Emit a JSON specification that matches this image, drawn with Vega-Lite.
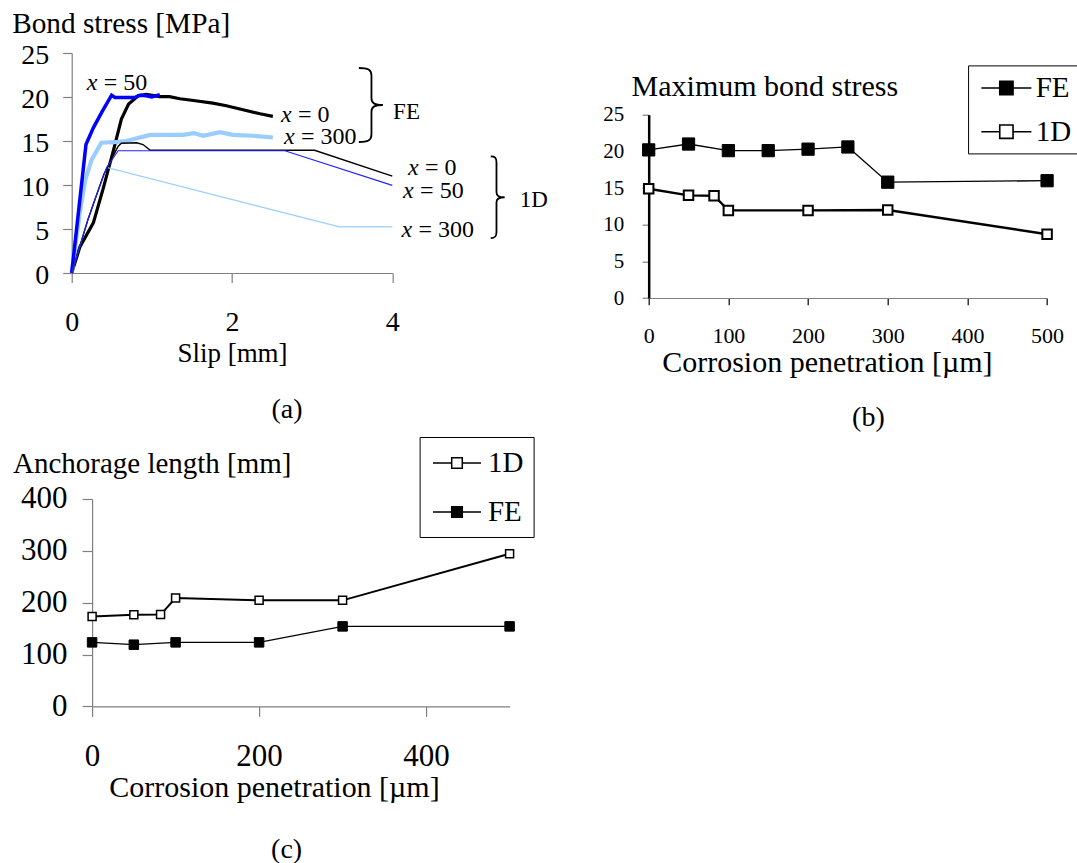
{
  "$schema": "https://vega.github.io/schema/vega-lite/v6.json",
  "padding": {"left": 11.7, "top": 9, "right": 0, "bottom": 0},
  "background": "white",
  "bounds": "flush",
  "spacing": 446,
  "resolve": {"scale": {"color": "independent", "fill": "independent", "size": "independent", "strokeWidth": "independent", "shape": "independent"}, "legend": {"color": "independent", "fill": "independent", "size": "independent", "strokeWidth": "independent", "shape": "independent"}},
  "datasets": {
    "curves": [
      {"curve": "FE x=0", "slip": 0, "stress": 0},
      {"curve": "FE x=0", "slip": 0.104, "stress": 3.0},
      {"curve": "FE x=0", "slip": 0.27, "stress": 5.7},
      {"curve": "FE x=0", "slip": 0.39, "stress": 9.5},
      {"curve": "FE x=0", "slip": 0.52, "stress": 13.9},
      {"curve": "FE x=0", "slip": 0.62, "stress": 17.5},
      {"curve": "FE x=0", "slip": 0.71, "stress": 19.2},
      {"curve": "FE x=0", "slip": 0.83, "stress": 20.15},
      {"curve": "FE x=0", "slip": 0.93, "stress": 20.3},
      {"curve": "FE x=0", "slip": 1.1, "stress": 20.05},
      {"curve": "FE x=0", "slip": 1.22, "stress": 20.05},
      {"curve": "FE x=0", "slip": 1.35, "stress": 19.8},
      {"curve": "FE x=0", "slip": 1.52, "stress": 19.6},
      {"curve": "FE x=0", "slip": 1.76, "stress": 19.3},
      {"curve": "FE x=0", "slip": 1.93, "stress": 19.0},
      {"curve": "FE x=0", "slip": 2.35, "stress": 18.1},
      {"curve": "FE x=0", "slip": 2.51, "stress": 17.8},
      {"curve": "FE x=300", "slip": 0, "stress": 0},
      {"curve": "FE x=300", "slip": 0.1, "stress": 6.8},
      {"curve": "FE x=300", "slip": 0.17, "stress": 10.6},
      {"curve": "FE x=300", "slip": 0.25, "stress": 12.9},
      {"curve": "FE x=300", "slip": 0.37, "stress": 14.8},
      {"curve": "FE x=300", "slip": 0.58, "stress": 14.9},
      {"curve": "FE x=300", "slip": 0.68, "stress": 15.0},
      {"curve": "FE x=300", "slip": 0.98, "stress": 15.7},
      {"curve": "FE x=300", "slip": 1.39, "stress": 15.7},
      {"curve": "FE x=300", "slip": 1.52, "stress": 15.9},
      {"curve": "FE x=300", "slip": 1.64, "stress": 15.6},
      {"curve": "FE x=300", "slip": 1.85, "stress": 16.0},
      {"curve": "FE x=300", "slip": 2.01, "stress": 15.7},
      {"curve": "FE x=300", "slip": 2.26, "stress": 15.6},
      {"curve": "FE x=300", "slip": 2.51, "stress": 15.4},
      {"curve": "FE x=50", "slip": 0, "stress": 0},
      {"curve": "FE x=50", "slip": 0.178, "stress": 14.6},
      {"curve": "FE x=50", "slip": 0.27, "stress": 16.5},
      {"curve": "FE x=50", "slip": 0.374, "stress": 18.25},
      {"curve": "FE x=50", "slip": 0.498, "stress": 20.2},
      {"curve": "FE x=50", "slip": 0.54, "stress": 19.95},
      {"curve": "FE x=50", "slip": 0.79, "stress": 19.95},
      {"curve": "FE x=50", "slip": 0.85, "stress": 20.2},
      {"curve": "FE x=50", "slip": 0.93, "stress": 20.15},
      {"curve": "FE x=50", "slip": 1.0, "stress": 20.0},
      {"curve": "FE x=50", "slip": 1.1, "stress": 20.25},
      {"curve": "1D x=300", "slip": 0, "stress": 0},
      {"curve": "1D x=300", "slip": 0.1, "stress": 3.0},
      {"curve": "1D x=300", "slip": 0.2, "stress": 6.0},
      {"curve": "1D x=300", "slip": 0.3, "stress": 8.6},
      {"curve": "1D x=300", "slip": 0.436, "stress": 12.0},
      {"curve": "1D x=300", "slip": 3.34, "stress": 5.25},
      {"curve": "1D x=300", "slip": 4.0, "stress": 5.25},
      {"curve": "1D x=0", "slip": 0, "stress": 0},
      {"curve": "1D x=0", "slip": 0.1, "stress": 3.0},
      {"curve": "1D x=0", "slip": 0.2, "stress": 6.0},
      {"curve": "1D x=0", "slip": 0.3, "stress": 8.6},
      {"curve": "1D x=0", "slip": 0.4, "stress": 11.2},
      {"curve": "1D x=0", "slip": 0.5, "stress": 13.0},
      {"curve": "1D x=0", "slip": 0.58, "stress": 14.4},
      {"curve": "1D x=0", "slip": 0.62, "stress": 14.75},
      {"curve": "1D x=0", "slip": 0.81, "stress": 14.8},
      {"curve": "1D x=0", "slip": 0.89, "stress": 14.6},
      {"curve": "1D x=0", "slip": 0.98, "stress": 13.95},
      {"curve": "1D x=0", "slip": 3.03, "stress": 13.95},
      {"curve": "1D x=0", "slip": 4.0, "stress": 11.0},
      {"curve": "1D x=50", "slip": 0, "stress": 0},
      {"curve": "1D x=50", "slip": 0.1, "stress": 3.0},
      {"curve": "1D x=50", "slip": 0.2, "stress": 6.0},
      {"curve": "1D x=50", "slip": 0.3, "stress": 8.6},
      {"curve": "1D x=50", "slip": 0.436, "stress": 12.0},
      {"curve": "1D x=50", "slip": 0.58, "stress": 13.9},
      {"curve": "1D x=50", "slip": 2.66, "stress": 13.9},
      {"curve": "1D x=50", "slip": 4.0, "stress": 9.96}
    ],
    "annot": [
      {"slip": 0.187, "stress": 21.6, "eq": "= 50"},
      {"slip": 2.61, "stress": 18.0, "eq": "= 0"},
      {"slip": 2.65, "stress": 15.5, "eq": "= 300"},
      {"slip": 4.197, "stress": 11.93, "eq": "= 0"},
      {"slip": 4.135, "stress": 9.27, "eq": "= 50"},
      {"slip": 4.115, "stress": 4.92, "eq": "= 300"}
    ],
    "braces": [
      {"group": "FE", "slip": 3.74, "stress": 19.09},
      {"group": "1D", "slip": 5.3, "stress": 8.61}
    ],
    "braceLabels": [
      {"label": "FE", "slip": 4.01, "stress": 18.3},
      {"label": "1D", "slip": 5.59, "stress": 8.33}
    ],
    "maxbond": [
      {"series": "FE", "pen": 0, "val": 20.2},
      {"series": "FE", "pen": 50, "val": 21.0},
      {"series": "FE", "pen": 100, "val": 20.1},
      {"series": "FE", "pen": 150, "val": 20.1},
      {"series": "FE", "pen": 200, "val": 20.3},
      {"series": "FE", "pen": 250, "val": 20.6},
      {"series": "FE", "pen": 300, "val": 15.8},
      {"series": "FE", "pen": 500, "val": 16.0},
      {"series": "1D", "pen": 0, "val": 14.9},
      {"series": "1D", "pen": 50, "val": 14.0},
      {"series": "1D", "pen": 82, "val": 13.95},
      {"series": "1D", "pen": 100, "val": 11.95},
      {"series": "1D", "pen": 200, "val": 11.95},
      {"series": "1D", "pen": 300, "val": 12.0},
      {"series": "1D", "pen": 500, "val": 8.7}
    ],
    "anchor": [
      {"series": "1D", "pen": 0, "val": 173.6},
      {"series": "1D", "pen": 50, "val": 176.9},
      {"series": "1D", "pen": 82, "val": 177.0},
      {"series": "1D", "pen": 100, "val": 209.0},
      {"series": "1D", "pen": 200, "val": 204.5},
      {"series": "1D", "pen": 300, "val": 204.5},
      {"series": "1D", "pen": 500, "val": 294.5},
      {"series": "FE", "pen": 0, "val": 123.5},
      {"series": "FE", "pen": 50, "val": 119.0},
      {"series": "FE", "pen": 100, "val": 123.5},
      {"series": "FE", "pen": 200, "val": 123.5},
      {"series": "FE", "pen": 300, "val": 154.3},
      {"series": "FE", "pen": 500, "val": 154.3}
    ]
  },
  "vconcat": [
    {
      "bounds": "flush",
      "spacing": 256,
      "resolve": {"scale": {"color": "independent", "fill": "independent", "size": "independent", "strokeWidth": "independent", "shape": "independent"}, "legend": {"color": "independent", "fill": "independent", "size": "independent", "strokeWidth": "independent", "shape": "independent"}},
      "hconcat": [
        {
          "width": 320.6,
          "height": 220,
          "title": {"text": "(a)", "orient": "bottom", "anchor": "middle", "dx": 55, "offset": 30, "fontSize": 28},
          "encoding": {
            "x": {
              "field": "slip", "type": "quantitative",
              "scale": {"domain": [0, 4], "nice": false},
              "axis": {"values": [0, 2, 4], "title": "Slip [mm]", "titleFontSize": 27, "titleY": 88.4, "titleBaseline": "alphabetic", "labelFontSize": 28, "labelPadding": 26, "tickSize": 9.5, "labelFlush": false, "labelOverlap": false, "labelAngle": 0}
            },
            "y": {
              "field": "stress", "type": "quantitative",
              "scale": {"domain": [0, 25], "nice": false},
              "axis": {"values": [0, 5, 10, 15, 20, 25], "title": "Bond stress [MPa]", "titleAngle": 0, "titleAlign": "left", "titleX": -60, "titleY": -21, "titleBaseline": "alphabetic", "titleFontSize": 29.3, "labelFontSize": 28, "labelPadding": 14, "tickSize": 9, "labelOffset": 2, "labelFlush": false, "labelOverlap": false}
            }
          },
          "layer": [
            {
              "data": {"name": "curves"},
              "mark": {"type": "line", "clip": false},
              "encoding": {
                "color": {"field": "curve", "type": "nominal", "scale": {"domain": ["FE x=0", "FE x=300", "FE x=50", "1D x=300", "1D x=0", "1D x=50"], "range": ["#000000", "#99CCFF", "#0000FF", "#99CCFF", "#000000", "#2222FF"]}, "legend": null},
                "strokeWidth": {"field": "curve", "type": "nominal", "scale": {"type": "ordinal", "domain": ["FE x=0", "FE x=300", "FE x=50", "1D x=300", "1D x=0", "1D x=50"], "range": [3.2, 4.2, 3.5, 1.2, 1.4, 1.1]}, "legend": null}
              }
            },
            {
              "data": {"name": "annot"},
              "mark": {"type": "text", "text": "x", "fontStyle": "italic", "fontSize": 24, "align": "left", "baseline": "middle", "color": "black"}
            },
            {
              "data": {"name": "annot"},
              "mark": {"type": "text", "fontSize": 24, "align": "left", "baseline": "middle", "dx": 17, "color": "black"},
              "encoding": {"text": {"field": "eq"}}
            },
            {
              "data": {"name": "braces"},
              "mark": {"type": "point", "filled": false, "stroke": "black", "strokeWidth": 1.8, "opacity": 1},
              "encoding": {
                "shape": {"field": "group", "type": "nominal", "scale": {"domain": ["FE", "1D"], "range": ["M-0.34,-1C-0.1,-1 0,-0.96 0,-0.8L0,-0.18C0,-0.04 0.1,0 0.31,0C0.1,0 0,0.04 0,0.18L0,0.8C0,0.96 -0.1,1 -0.34,1", "M-0.14,-1C-0.04,-1 0,-0.97 0,-0.85L0,-0.12C0,-0.03 0.06,0 0.2,0C0.06,0 0,0.03 0,0.12L0,0.85C0,0.97 -0.04,1 -0.14,1"]}, "legend": null},
                "size": {"field": "group", "type": "nominal", "scale": {"type": "ordinal", "domain": ["FE", "1D"], "range": [5476, 6659]}, "legend": null}
              }
            },
            {
              "data": {"name": "braceLabels"},
              "mark": {"type": "text", "fontSize": 23, "align": "left", "baseline": "middle", "color": "black"},
              "encoding": {"text": {"field": "label"}}
            }
          ]
        },
        {
          "bounds": "flush",
          "spacing": 21.7,
          "resolve": {"scale": {"color": "independent", "fill": "independent", "size": "independent", "strokeWidth": "independent", "shape": "independent"}, "legend": {"color": "independent", "fill": "independent", "size": "independent", "strokeWidth": "independent", "shape": "independent"}},
          "vconcat": [
            {"data": {"values": []}, "mark": "point", "width": 398.4, "height": 40},
            {
              "width": 398.4,
              "height": 183.3,
              "data": {"name": "maxbond"},
              "title": {"text": "(b)", "orient": "bottom", "anchor": "middle", "dx": 20.5, "offset": 27, "fontSize": 28},
              "encoding": {
                "x": {
                  "field": "pen", "type": "quantitative",
                  "scale": {"domain": [0, 500], "nice": false},
                  "axis": {"values": [0, 100, 200, 300, 400, 500], "title": "Corrosion penetration [µm]", "titleFontSize": 30, "titleX": 178.2, "titleY": 73.4, "titleBaseline": "alphabetic", "titleAlign": "center", "labelFontSize": 22, "labelPadding": 20.5, "tickSize": 6.7, "tickColor": "#000000", "labelFlush": false, "labelOverlap": false, "labelAngle": 0}
                },
                "y": {
                  "field": "val", "type": "quantitative",
                  "scale": {"domain": [0, 25], "nice": false},
                  "axis": {"values": [0, 5, 10, 15, 20, 25], "title": "Maximum bond stress", "titleAngle": 0, "titleAlign": "left", "titleX": -17.6, "titleY": -19.3, "titleBaseline": "alphabetic", "titleFontSize": 30, "labelFontSize": 21, "labelPadding": 18.4, "tickSize": 6.6, "domainColor": "#000000", "domainWidth": 2.5, "labelFlush": false, "labelOverlap": false}
                }
              },
              "layer": [
                {
                  "transform": [{"filter": {"field": "series", "equal": "FE"}}],
                  "mark": {"type": "line", "color": "black", "strokeWidth": 1.3}
                },
                {
                  "transform": [{"filter": {"field": "series", "equal": "1D"}}],
                  "mark": {"type": "line", "color": "black", "strokeWidth": 2.4}
                },
                {
                  "transform": [{"filter": {"field": "series", "equal": "FE"}}],
                  "mark": {"type": "point", "shape": "square", "filled": true, "stroke": "black", "strokeWidth": 1, "size": 150, "opacity": 1},
                  "encoding": {
                    "fill": {
                      "field": "series", "type": "nominal",
                      "scale": {"domain": ["FE", "1D"], "range": ["#000000", "#ffffff"]},
                      "legend": {"title": null, "orient": "none", "legendX": 319.4, "legendY": -49.3, "direction": "vertical", "symbolType": "M-1.667,0H-0.443M0.443,0H1.667M-0.443,-0.443H0.443V0.443H-0.443Z", "symbolSize": 900, "symbolStrokeColor": "black", "symbolStrokeWidth": 1.6, "symbolOpacity": 1, "labelFontSize": 29, "labelOffset": 13.3, "rowPadding": 12.7, "padding": 6.6, "symbolOffset": 15.7, "strokeColor": "black", "fillColor": "white"}
                    }
                  }
                },
                {
                  "transform": [{"filter": {"field": "series", "equal": "1D"}}],
                  "mark": {"type": "point", "shape": "square", "filled": true, "stroke": "black", "strokeWidth": 2, "size": 90, "opacity": 1},
                  "encoding": {
                    "fill": {
                      "field": "series", "type": "nominal",
                      "scale": {"domain": ["FE", "1D"], "range": ["#000000", "#ffffff"]},
                      "legend": {"title": null, "orient": "none", "legendX": 319.4, "legendY": -49.3, "direction": "vertical", "symbolType": "M-1.667,0H-0.443M0.443,0H1.667M-0.443,-0.443H0.443V0.443H-0.443Z", "symbolSize": 900, "symbolStrokeColor": "black", "symbolStrokeWidth": 1.6, "symbolOpacity": 1, "labelFontSize": 29, "labelOffset": 13.3, "rowPadding": 12.7, "padding": 6.6, "symbolOffset": 15.7, "strokeColor": "black", "fillColor": "white"}
                    }
                  }
                }
              ]
            }
          ]
        }
      ]
    },
    {
      "bounds": "flush",
      "spacing": 10.4,
      "resolve": {"scale": {"color": "independent", "fill": "independent", "size": "independent", "strokeWidth": "independent", "shape": "independent"}, "legend": {"color": "independent", "fill": "independent", "size": "independent", "strokeWidth": "independent", "shape": "independent"}},
      "hconcat": [
        {"data": {"values": []}, "mark": "point", "width": 10, "height": 207.4},
        {
          "width": 417.5,
          "height": 207.4,
          "data": {"name": "anchor"},
          "title": {"text": "(c)", "orient": "bottom", "anchor": "middle", "dx": -14.2, "offset": 34, "fontSize": 28},
          "encoding": {
            "x": {
              "field": "pen", "type": "quantitative",
              "scale": {"domain": [0, 500], "nice": false},
              "axis": {"values": [0, 200, 400], "title": "Corrosion penetration [µm]", "titleFontSize": 30, "titleX": 181.9, "titleY": 90, "titleBaseline": "alphabetic", "titleAlign": "center", "labelFontSize": 31, "labelPadding": 25, "tickSize": 10, "labelFlush": false, "labelOverlap": false, "labelAngle": 0}
            },
            "y": {
              "field": "val", "type": "quantitative",
              "scale": {"domain": [0, 400], "nice": false},
              "axis": {"values": [0, 100, 200, 300, 400], "title": "Anchorage length [mm]", "titleAngle": 0, "titleAlign": "left", "titleX": -79.6, "titleY": -26, "titleBaseline": "alphabetic", "titleFontSize": 29, "labelFontSize": 31, "labelPadding": 15, "tickSize": 10, "labelFlush": false, "labelOverlap": false}
            }
          },
          "layer": [
            {
              "transform": [{"filter": {"field": "series", "equal": "1D"}}],
              "mark": {"type": "line", "color": "black", "strokeWidth": 2.0}
            },
            {
              "transform": [{"filter": {"field": "series", "equal": "FE"}}],
              "mark": {"type": "line", "color": "black", "strokeWidth": 1.3}
            },
            {
              "transform": [{"filter": {"field": "series", "equal": "1D"}}],
              "mark": {"type": "point", "shape": "square", "filled": true, "stroke": "black", "strokeWidth": 1.5, "size": 64, "opacity": 1},
              "encoding": {
                "fill": {
                  "field": "series", "type": "nominal",
                  "scale": {"domain": ["1D", "FE"], "range": ["#ffffff", "#000000"]},
                  "legend": {"title": null, "orient": "none", "legendX": 327.5, "legendY": -62, "direction": "vertical", "symbolType": "M-1.6,0H-0.353M0.353,0H1.6M-0.353,-0.353H0.353V0.353H-0.353Z", "symbolSize": 900, "symbolStrokeColor": "black", "symbolStrokeWidth": 1.5, "symbolOpacity": 1, "labelFontSize": 29, "labelOffset": 15, "rowPadding": 18, "padding": 10, "symbolOffset": 11.4, "strokeColor": "black", "fillColor": "white"}
                }
              }
            },
            {
              "transform": [{"filter": {"field": "series", "equal": "FE"}}],
              "mark": {"type": "point", "shape": "square", "filled": true, "stroke": "black", "strokeWidth": 1, "size": 90, "opacity": 1},
              "encoding": {
                "fill": {
                  "field": "series", "type": "nominal",
                  "scale": {"domain": ["1D", "FE"], "range": ["#ffffff", "#000000"]},
                  "legend": {"title": null, "orient": "none", "legendX": 327.5, "legendY": -62, "direction": "vertical", "symbolType": "M-1.6,0H-0.353M0.353,0H1.6M-0.353,-0.353H0.353V0.353H-0.353Z", "symbolSize": 900, "symbolStrokeColor": "black", "symbolStrokeWidth": 1.5, "symbolOpacity": 1, "labelFontSize": 29, "labelOffset": 15, "rowPadding": 18, "padding": 10, "symbolOffset": 11.4, "strokeColor": "black", "fillColor": "white"}
                }
              }
            }
          ]
        }
      ]
    }
  ],
  "config": {
    "font": "Liberation Serif",
    "view": {"stroke": null},
    "axis": {"labelFont": "Liberation Serif", "titleFont": "Liberation Serif", "labelColor": "black", "titleColor": "black", "titleFontWeight": "normal", "grid": false, "domainColor": "#808080", "tickColor": "#808080", "domainWidth": 1.2, "tickWidth": 1.2},
    "legend": {"labelFont": "Liberation Serif", "labelColor": "black"},
    "title": {"font": "Liberation Serif", "fontWeight": "normal", "color": "black"},
    "text": {"font": "Liberation Serif"}
  }
}
